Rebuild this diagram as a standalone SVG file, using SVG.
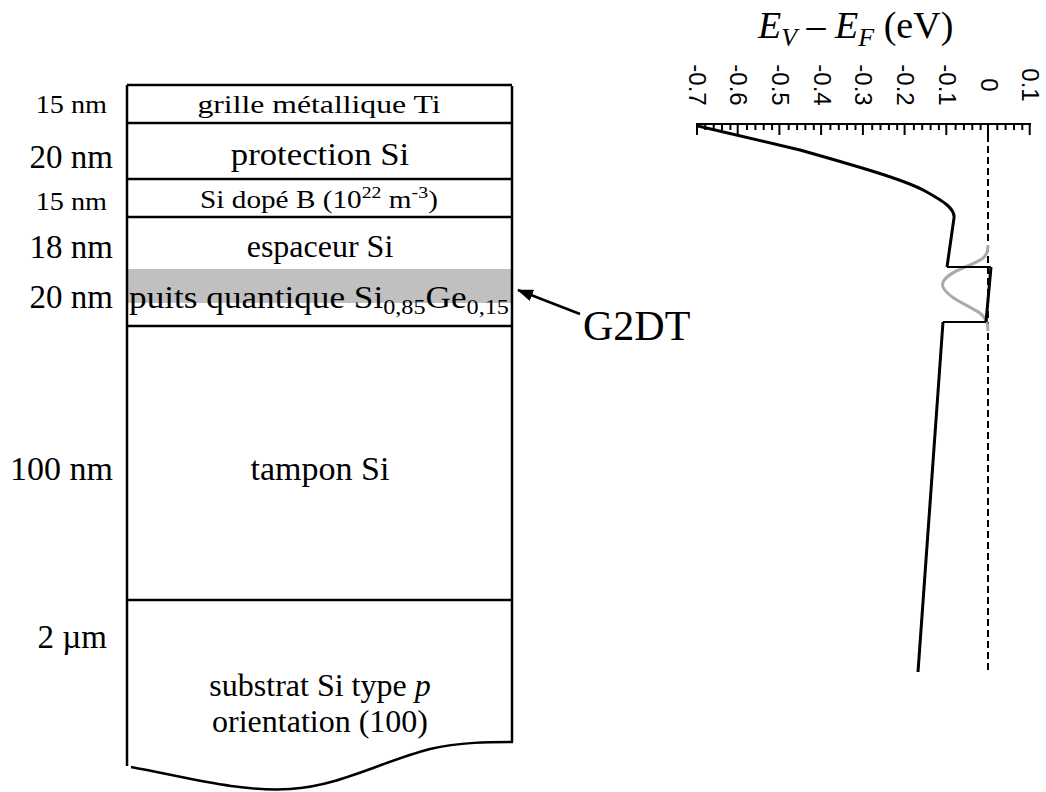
<svg xmlns="http://www.w3.org/2000/svg" width="1046" height="792" viewBox="0 0 1046 792">
<style>
.ser{font-family:"Liberation Serif","Times New Roman",serif;fill:#000}
.san{font-family:"Liberation Sans",Arial,sans-serif;fill:#000}
.ln{stroke:#000;stroke-width:2.5;fill:none}
.tk{stroke:#000;stroke-width:2;fill:none}
.mid{text-anchor:middle}
.end{text-anchor:end}
</style>
<defs>
<marker id="ah" markerWidth="16" markerHeight="12" refX="15" refY="6" orient="auto" markerUnits="userSpaceOnUse" viewBox="0 0 16 12">
<path d="M0,0 L16,6 L0,12 Z" fill="#000"/>
</marker>
</defs>
<rect width="1046" height="792" fill="#fff"/>

<g id="stack">
<rect x="128" y="269" width="384" height="34" fill="#c0c0c0"/>
<path class="ln" d="M127,85 L127,766 M512,86 L512,742 M127,85 L512,85 M127,123 L512,123 M127,179 L512,179 M127,217 L512,217 M127,326 L512,326 M127,600 L512,600"/>
<path class="ln" stroke-width="3" d="M131,767 C190,778 240,792 290,789 C340,786 380,762 430,749 C460,742 490,742 513,742"/>
</g>

<g id="layer-grille">
<text class="ser end" transform="translate(107,113) scale(1.13,1)" font-size="25">15 nm</text>
<text class="ser mid" transform="translate(319,113) scale(1.22,1)" font-size="26">grille métallique Ti</text>
</g>
<g id="layer-protection">
<text class="ser end" x="113" y="168" font-size="33">20 nm</text>
<text class="ser mid" transform="translate(320,165) scale(1.085,1)" font-size="32">protection Si</text>
</g>
<g id="layer-dope">
<text class="ser end" transform="translate(107,210) scale(1.13,1)" font-size="25">15 nm</text>
<text class="ser mid" transform="translate(319,208) scale(1.17,1)" font-size="25">Si dopé B (10<tspan font-size="17" dy="-10">22</tspan><tspan dy="10"> m</tspan><tspan font-size="17" dy="-10">-3</tspan><tspan dy="10">)</tspan></text>
</g>
<g id="layer-espaceur">
<text class="ser end" x="113" y="258" font-size="33">18 nm</text>
<text class="ser mid" x="320" y="257" font-size="32">espaceur Si</text>
</g>
<g id="layer-puits">
<text class="ser end" x="113" y="308" font-size="33">20 nm</text>
<text class="ser mid" transform="translate(319,308) scale(1.1,1)" font-size="32">puits quantique Si<tspan font-size="22" dy="6">0,85</tspan><tspan dy="-6">Ge</tspan><tspan font-size="22" dy="6">0,15</tspan></text>
</g>
<g id="layer-tampon">
<text class="ser end" x="113" y="480" font-size="34">100 nm</text>
<text class="ser mid" x="320" y="480" font-size="34">tampon Si</text>
</g>
<g id="layer-substrat">
<text class="ser end" x="107" y="648" font-size="33">2 µm</text>
<text class="ser mid" x="320" y="696" font-size="32">substrat Si type <tspan font-style="italic">p</tspan></text>
<text class="ser mid" x="320" y="732" font-size="32">orientation (100)</text>
</g>

<g id="label-g2dt">
<text class="ser" x="583" y="340" font-size="42">G2DT</text>
</g>

<g id="connectors">
<line x1="580" y1="314" x2="518" y2="290" stroke="#000" stroke-width="2.5" marker-end="url(#ah)"/>
</g>

<g id="chart">
<text class="ser" x="758" y="38" font-size="38"><tspan font-style="italic">E</tspan><tspan font-style="italic" font-size="26" dy="8">V</tspan><tspan dy="-8"> – </tspan><tspan font-style="italic">E</tspan><tspan font-style="italic" font-size="26" dy="8">F</tspan><tspan dy="-8"> (eV)</tspan></text>
<g class="san" font-size="24">
<text class="mid" transform="translate(688.5,85) rotate(90)">-0.7</text>
<text class="mid" transform="translate(730.2,85) rotate(90)">-0.6</text>
<text class="mid" transform="translate(771.9,85) rotate(90)">-0.5</text>
<text class="mid" transform="translate(813.6,85) rotate(90)">-0.4</text>
<text class="mid" transform="translate(855.4,85) rotate(90)">-0.3</text>
<text class="mid" transform="translate(897.1,85) rotate(90)">-0.2</text>
<text class="mid" transform="translate(938.8,85) rotate(90)">-0.1</text>
<text class="mid" transform="translate(980.5,85) rotate(90)">0</text>
<text class="mid" transform="translate(1022.2,85) rotate(90)">0.1</text>
</g>
<path class="tk" d="M696,124 L1031,124"/>
<path class="tk" d="M697,124 v11 M737.7,124 v11 M779.4,124 v11 M821.1,124 v11 M862.9,124 v11 M904.6,124 v11 M946.3,124 v11 M988,124 v11 M1029.7,124 v11"/>
<path class="tk" stroke-width="1.5" d="M705.3,124 v6 M713.7,124 v6 M722,124 v6 M730.4,124 v6 M747,124 v6 M755.4,124 v6 M763.7,124 v6 M772.1,124 v6 M788.7,124 v6 M797.1,124 v6 M805.4,124 v6 M813.8,124 v6 M830.4,124 v6 M838.8,124 v6 M847.1,124 v6 M855.5,124 v6 M872.2,124 v6 M880.5,124 v6 M888.9,124 v6 M897.2,124 v6 M913.9,124 v6 M922.2,124 v6 M930.6,124 v6 M938.9,124 v6 M955.6,124 v6 M963.9,124 v6 M972.3,124 v6 M980.6,124 v6 M997.3,124 v6 M1005.6,124 v6 M1014,124 v6 M1022.3,124 v6"/>
<line x1="988" y1="135" x2="988" y2="672" stroke="#000" stroke-width="2" stroke-dasharray="7,4"/>
<path d="M988,245 C988,256 984,259 970,265 C952,272 940,279 943,287 C948,298 968,305 980,313 C987,319 988,324 988,331" stroke="#aaa" stroke-width="3" fill="none"/>
<path d="M698,126 L800,150 C860,167 905,180 925,191 C945,202 955,209 954,218 L947,267" stroke="#000" stroke-width="3" fill="none"/>
<path d="M947,267 L991,267" stroke="#000" stroke-width="2" fill="none"/>
<path d="M991,267 L986,322" stroke="#000" stroke-width="3" fill="none"/>
<path d="M986,322 L943,322" stroke="#000" stroke-width="2" fill="none"/>
<path d="M943,322 L918,672" stroke="#000" stroke-width="3" fill="none"/>
</g>
</svg>
